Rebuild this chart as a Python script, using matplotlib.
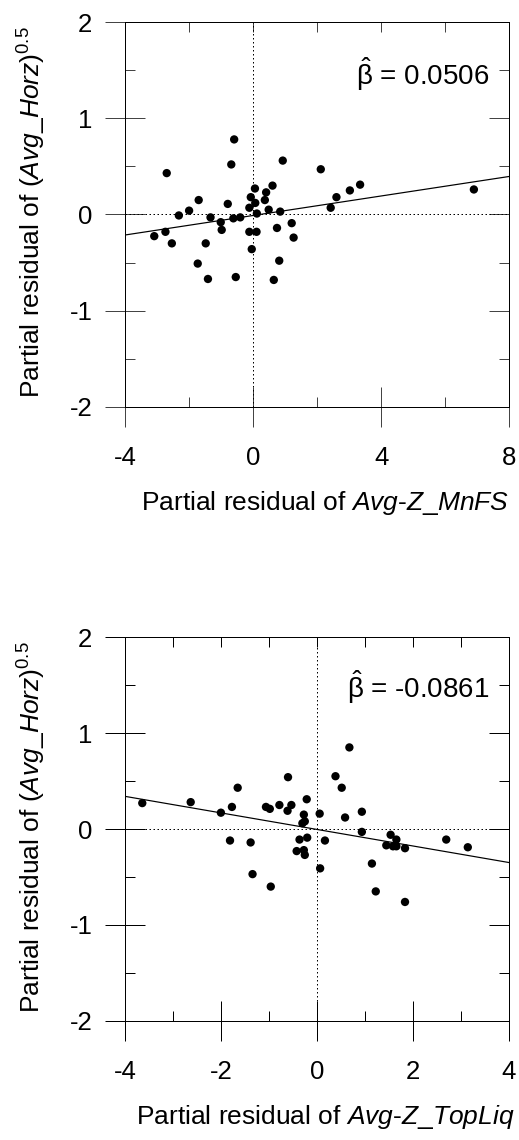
import numpy as np
import matplotlib.pyplot as plt
from matplotlib.ticker import MultipleLocator

plt.rcParams['font.family'] = ['Liberation Sans', 'DejaVu Sans']
plt.rcParams['mathtext.fontset'] = 'custom'
plt.rcParams['mathtext.rm'] = 'Liberation Sans'
plt.rcParams['mathtext.it'] = 'Liberation Sans:italic'
plt.rcParams['axes.unicode_minus'] = False

# верхня панель: Avg-Z_MnFS
mnfs_x = [-3.10, -2.75, -2.71, -2.55, -2.33, -2.01, -1.71, -1.74, -1.49, -1.42,
          -1.34, -1.02, -0.99, -0.80, -0.69, -0.60, -0.625, -0.41, -0.55, -0.125,
          -0.08, 0.05, 0.06, 0.11, -0.125, 0.10, -0.05, 0.36, 0.40, 0.60,
          0.48, 0.84, 0.92, 0.74, 1.20, 1.26, 0.81, 0.64, 2.11, 2.42,
          2.60, 3.02, 3.34, 6.90]
mnfs_y = [-0.225, -0.18, 0.43, -0.30, -0.01, 0.04, 0.15, -0.51, -0.30, -0.67,
          -0.03, -0.08, -0.16, 0.11, 0.52, 0.78, -0.04, -0.03, -0.65, 0.07,
          0.18, 0.27, 0.12, 0.01, -0.18, -0.18, -0.36, 0.15, 0.23, 0.30,
          0.05, 0.03, 0.56, -0.14, -0.09, -0.24, -0.48, -0.68, 0.47, 0.07,
          0.18, 0.25, 0.31, 0.26]
mnfs_beta = 0.0506
mnfs_icpt = -0.01

# нижня панель: Avg-Z_TopLiq
topliq_x = [-3.65, -2.64, -2.01, -1.78, -1.66, -1.82, -1.39, -1.35, -0.97, -1.07,
            -0.99, -0.79, -0.62, -0.54, -0.61, -0.22, -0.28, -0.26, -0.31, -0.37,
            -0.21, -0.43, -0.28, -0.26, 0.05, 0.16, 0.06, 0.38, 0.51, 0.67,
            0.58, 0.93, 0.93, 1.14, 1.22, 1.53, 1.44, 1.58, 1.65, 1.65,
            1.83, 1.83, 2.69, 3.14]
topliq_y = [0.27, 0.28, 0.17, 0.23, 0.43, -0.12, -0.14, -0.47, -0.60, 0.23,
            0.21, 0.25, 0.19, 0.25, 0.54, 0.31, 0.15, 0.08, 0.06, -0.11,
            -0.09, -0.23, -0.22, -0.27, 0.16, -0.12, -0.41, 0.55, 0.43, 0.85,
            0.12, 0.18, -0.03, -0.36, -0.65, -0.06, -0.17, -0.18, -0.11, -0.18,
            -0.20, -0.76, -0.11, -0.19]
topliq_beta = -0.0861
topliq_icpt = -0.005

ylab = r'Partial residual of ($\mathit{Avg\_Horz}$)$^{0.5}$'
px = 0.72  # один піксель у пунктах


def panel(ax, x, y, beta, icpt, xlim, xmaj, xmin, xtop, xlabel, btxt, bpos, col):
    ax.set_xlim(xlim)
    ax.set_ylim(-2, 2)
    ax.axhline(0, color='k', ls=(0, (1.5, 2.5)), lw=1.0 * px)
    ax.axvline(0, color='k', ls=(0, (1.5, 2.5)), lw=1.0 * px)
    xx = np.array(xlim)
    ax.plot(xx, icpt + beta * xx, color='k', lw=1.2 * px)
    ax.scatter(x, y, s=36, color='k', edgecolors='none', zorder=3)

    ax.xaxis.set_major_locator(MultipleLocator(xmaj))
    ax.xaxis.set_minor_locator(MultipleLocator(xmin))
    ax.yaxis.set_major_locator(MultipleLocator(1))
    ax.yaxis.set_minor_locator(MultipleLocator(0.5))
    ax.tick_params(which='major', direction='inout', length=40 * px,
                   width=1.0 * px, color=col, labelsize=18.5)
    ax.tick_params(which='minor', direction='in', length=10 * px,
                   width=1.0 * px, color=col)
    ax.tick_params(axis='x', which='major', pad=13.5)
    ax.tick_params(axis='y', which='major', pad=9.5)
    for s in ax.spines.values():
        s.set_linewidth(1.0 * px)

    top = ax.secondary_xaxis('top')
    top.xaxis.set_major_locator(MultipleLocator(xtop))
    top.tick_params(direction='in', length=10 * px, width=1.0 * px,
                    color=col, labeltop=False)
    top.spines['top'].set_linewidth(1.0 * px)
    right = ax.secondary_yaxis('right')
    right.yaxis.set_major_locator(MultipleLocator(1))
    right.yaxis.set_minor_locator(MultipleLocator(0.5))
    right.tick_params(which='major', direction='in', length=20 * px,
                      width=1.0 * px, color=col, labelright=False)
    right.tick_params(which='minor', direction='in', length=10 * px,
                      width=1.0 * px, color=col)
    right.spines['right'].set_linewidth(1.0 * px)

    ax.set_xlabel(xlabel, fontsize=19)
    ax.xaxis.label.set_va('center')
    ax.xaxis.set_label_coords(0.52, -0.25)
    ax.set_ylabel(ylab, fontsize=19)
    ax.yaxis.label.set_va('center')
    ax.yaxis.set_label_coords(-0.245, 0.505)

    ax.text(0.948, bpos, btxt, transform=ax.transAxes, fontsize=20,
            ha='right', va='baseline')


fig = plt.figure(figsize=(5.19, 11.4), dpi=100)
ax1 = fig.add_axes([0.2418, 0.643, 0.739, 0.3377])
ax2 = fig.add_axes([0.2418, 0.1044, 0.739, 0.3368])

panel(ax1, mnfs_x, mnfs_y, mnfs_beta, mnfs_icpt, (-4, 8), 4, 2, 2,
      r'Partial residual of $\mathit{Avg}$-$\mathit{Z\_MnFS}$',
      r'$\hat{\mathrm{\beta}}$ = ' + f'{mnfs_beta:.4f}', 0.836, '#444444')
panel(ax2, topliq_x, topliq_y, topliq_beta, topliq_icpt, (-4, 4), 2, 1, 1,
      r'Partial residual of $\mathit{Avg}$-$\mathit{Z\_TopLiq}$',
      r'$\hat{\mathrm{\beta}}$ = ' + f'{topliq_beta:.4f}', 0.841, 'k')

fig.savefig('out.png', dpi=100)
